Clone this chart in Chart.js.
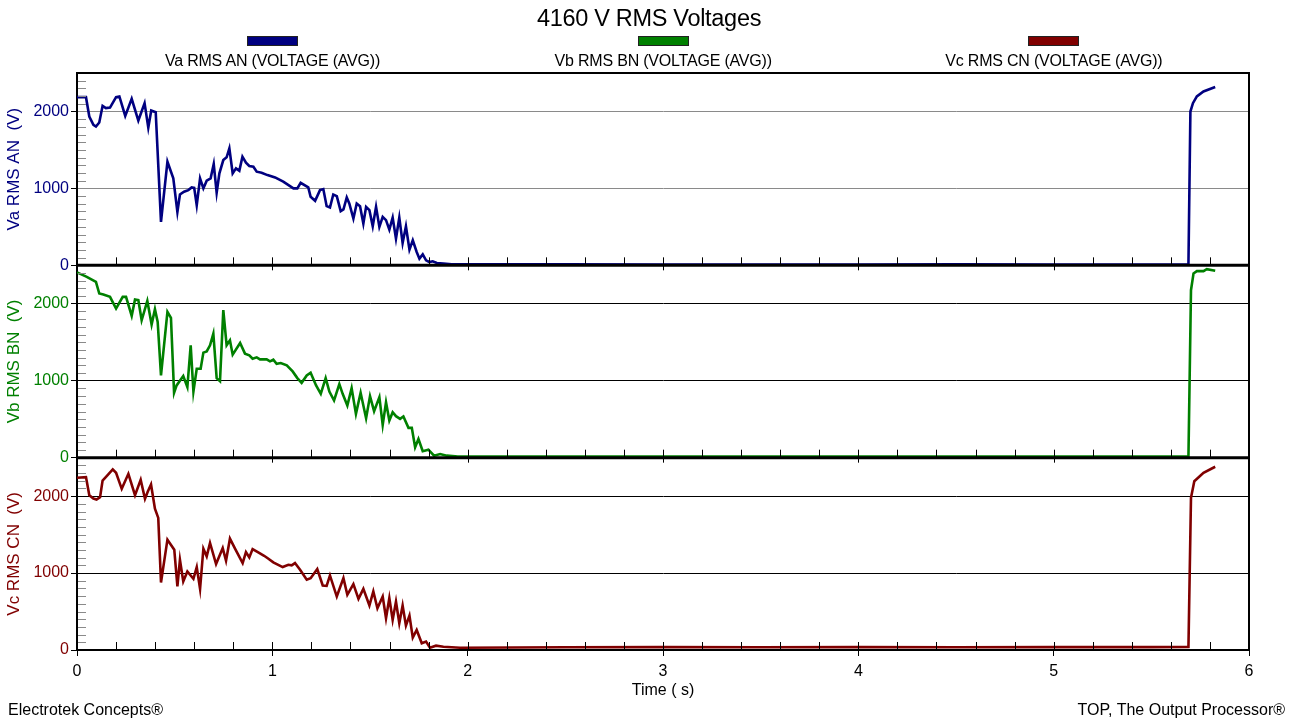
<!DOCTYPE html>
<html>
<head>
<meta charset="utf-8">
<title>4160 V RMS Voltages</title>
<script src="https://cdn.jsdelivr.net/npm/chart.js@4.4.1/dist/chart.umd.min.js"></script>
<style>
  body { margin:0; background:#fff; font-family:"Liberation Sans", Arial, sans-serif; }
  #wrap { position:relative; width:1298px; height:719px; overflow:hidden; }
  #chart { position:absolute; left:0; top:0; }
  .txt { position:absolute; color:#000; white-space:nowrap; }
  #title { left:0; width:1298px; top:5px; text-align:center; font-size:23.5px; line-height:26px; letter-spacing:-0.3px; }
  .leg { position:absolute; top:36px; width:391px; text-align:center; font-size:16px; }
  .leg .box { display:block; margin:0 auto; width:49px; height:8px; border:1px solid #222; }
  .leg .lab { margin-top:5px; line-height:19px; letter-spacing:-0.2px; }
  #foot1 { left:8px; top:700px; font-size:16px; line-height:19px; }
  #foot2 { right:13px; top:700px; font-size:16px; line-height:19px; }
</style>
</head>
<body>
<div id="wrap">
  <canvas id="chart" width="1298" height="719"></canvas>
  <div class="txt" id="title">4160 V RMS Voltages</div>
  <div id="legend"></div>
  <div class="txt" id="foot1">Electrotek Concepts®</div>
  <div class="txt" id="foot2">TOP, The Output Processor®</div>
</div>
<script>
// time axis (s) and RMS voltages (V)
const timeA = [0, 0.046, 0.063, 0.084, 0.097, 0.114, 0.131, 0.148, 0.169, 0.2, 0.217, 0.247, 0.28, 0.314, 0.346, 0.365, 0.38, 0.403, 0.43, 0.463, 0.493, 0.514, 0.527, 0.548, 0.57, 0.587, 0.6, 0.613, 0.63, 0.647, 0.664, 0.684, 0.7, 0.715, 0.729, 0.749, 0.766, 0.78, 0.797, 0.814, 0.831, 0.847, 0.865, 0.882, 0.903, 0.92, 0.945, 0.975, 1.014, 1.056, 1.108, 1.128, 1.145, 1.184, 1.196, 1.219, 1.244, 1.261, 1.278, 1.295, 1.312, 1.33, 1.35, 1.364, 1.381, 1.394, 1.415, 1.432, 1.449, 1.466, 1.48, 1.497, 1.514, 1.531, 1.548, 1.565, 1.582, 1.599, 1.616, 1.633, 1.65, 1.667, 1.684, 1.702, 1.719, 1.739, 1.753, 1.77, 1.787, 1.804, 1.821, 1.842, 1.876, 1.918, 2.5, 3.0, 3.5, 4.0, 4.5, 5.0, 5.5, 5.69, 5.70, 5.713, 5.733, 5.767, 5.827];
const voltsA = [2186, 2186, 1934, 1825, 1804, 1856, 2073, 2043, 2051, 2186, 2195, 1943, 2164, 1882, 2108, 1790, 2012, 1990, 565, 1347, 1130, 695, 921, 956, 978, 1013, 1008, 782, 1130, 1000, 1100, 1130, 1317, 943, 1195, 1369, 1404, 1521, 1195, 1260, 1230, 1412, 1334, 1291, 1282, 1217, 1204, 1173, 1143, 1087, 1000, 1000, 1073, 1013, 891, 839, 978, 991, 769, 752, 921, 900, 704, 726, 882, 804, 608, 804, 769, 543, 760, 717, 508, 760, 500, 630, 587, 465, 621, 348, 621, 291, 508, 204, 326, 174, 87, 143, 65, 43, 52, 30, 22, 13, 12, 10, 11, 10, 12, 10, 11, 10, 1999, 2108, 2195, 2260, 2317];

const timeB = [0, 0.05, 0.097, 0.114, 0.135, 0.169, 0.2, 0.234, 0.251, 0.28, 0.297, 0.314, 0.331, 0.36, 0.382, 0.399, 0.413, 0.43, 0.463, 0.481, 0.497, 0.51, 0.544, 0.565, 0.582, 0.596, 0.613, 0.633, 0.647, 0.664, 0.681, 0.698, 0.715, 0.732, 0.749, 0.766, 0.783, 0.797, 0.835, 0.86, 0.882, 0.899, 0.92, 0.937, 0.971, 0.988, 1.005, 1.022, 1.043, 1.074, 1.104, 1.128, 1.15, 1.176, 1.196, 1.224, 1.248, 1.273, 1.292, 1.316, 1.343, 1.36, 1.384, 1.406, 1.428, 1.452, 1.48, 1.5, 1.521, 1.548, 1.565, 1.582, 1.599, 1.616, 1.633, 1.654, 1.671, 1.697, 1.714, 1.731, 1.748, 1.77, 1.799, 1.828, 1.859, 1.893, 1.95, 2.5, 3.0, 3.5, 4.0, 4.5, 5.0, 5.5, 5.69, 5.703, 5.716, 5.733, 5.767, 5.784, 5.827];
const voltsB = [2408, 2351, 2286, 2134, 2121, 2090, 1938, 2090, 2090, 1843, 2056, 2047, 1786, 2038, 1730, 1930, 1764, 1069, 1895, 1817, 843, 939, 1060, 917, 1460, 860, 1156, 1156, 1365, 1382, 1460, 1612, 1034, 995, 1917, 1460, 1525, 1339, 1491, 1352, 1330, 1286, 1304, 1278, 1278, 1252, 1273, 1221, 1230, 1200, 1121, 1034, 973, 1069, 1104, 939, 830, 1034, 860, 743, 956, 830, 678, 904, 569, 843, 513, 800, 604, 787, 426, 721, 482, 591, 539, 504, 535, 387, 387, 135, 243, 83, 104, 26, 48, 26, 15, 14, 15, 14, 15, 14, 15, 14, 14, 2177, 2395, 2425, 2425, 2450, 2430];

const timeC = [0, 0.046, 0.063, 0.084, 0.1, 0.118, 0.131, 0.152, 0.183, 0.2, 0.229, 0.263, 0.297, 0.326, 0.348, 0.362, 0.379, 0.399, 0.416, 0.43, 0.463, 0.498, 0.514, 0.527, 0.544, 0.565, 0.596, 0.613, 0.63, 0.647, 0.664, 0.681, 0.712, 0.746, 0.763, 0.783, 0.809, 0.848, 0.865, 0.882, 0.899, 0.928, 0.958, 0.98, 1.005, 1.053, 1.082, 1.099, 1.116, 1.142, 1.176, 1.196, 1.23, 1.258, 1.278, 1.295, 1.33, 1.364, 1.384, 1.415, 1.441, 1.466, 1.497, 1.517, 1.538, 1.565, 1.582, 1.599, 1.616, 1.633, 1.65, 1.667, 1.684, 1.702, 1.719, 1.739, 1.765, 1.787, 1.807, 1.838, 1.876, 1.961, 2.5, 3.0, 3.5, 4.0, 4.5, 5.0, 5.5, 5.69, 5.703, 5.72, 5.767, 5.827];
const voltsC = [2238, 2247, 2012, 1969, 1956, 1986, 2203, 2260, 2347, 2303, 2095, 2290, 2012, 2212, 1964, 2056, 2151, 1838, 1717, 878, 1434, 1304, 826, 1173, 891, 1021, 926, 1078, 795, 1317, 1217, 1391, 1117, 1325, 1160, 1447, 1317, 1130, 1273, 1204, 1312, 1269, 1225, 1186, 1139, 1078, 1108, 1100, 1130, 1043, 913, 934, 1052, 839, 834, 969, 695, 934, 717, 856, 665, 795, 578, 761, 543, 695, 413, 674, 391, 630, 348, 578, 317, 448, 161, 261, 87, 109, 30, 56, 43, 30, 35, 38, 36, 38, 36, 38, 37, 38, 1978, 2194, 2304, 2382];

const seriesNames = ['Va RMS AN (VOLTAGE (AVG))', 'Vb RMS BN (VOLTAGE (AVG))', 'Vc RMS CN (VOLTAGE (AVG))'];
const axisTitles = ['Va RMS AN  (V)', 'Vb RMS BN  (V)', 'Vc RMS CN  (V)'];
const seriesColors = ['#000080', '#008000', '#800000'];
const xTicks = [0, 1, 2, 3, 4, 5, 6];
const yTicks = [0, 1000, 2000];
const yMax = 2500;

const FONT = '"Liberation Sans", Arial, sans-serif';
Chart.defaults.font.family = FONT;

// legend: colour bar above each label, one per third of the plot width
const legendEl = document.getElementById('legend');
seriesNames.forEach((name, i) => {
  const d = document.createElement('div');
  d.className = 'leg';
  d.style.left = (77 + i * 390.7) + 'px';
  d.innerHTML = `<div class="box" style="background:${seriesColors[i]}"></div><div class="lab">${name}</div>`;
  legendEl.appendChild(d);
});

function pts(ts, vs) {
  return ts.map((t, i) => ({x: t, y: vs[i]}));
}

function yScale(i, gridColor) {
  return {
    type: 'linear', position: 'left', stack: 'panels', stackWeight: 1,
    min: 0, max: yMax,
    afterBuildTicks: s => { s.ticks = yTicks.map(v => ({value: v})); },
    afterFit: s => { s.width = 77; },
    ticks: {color: seriesColors[i], font: {size: 16}, padding: 2, callback: v => String(v)},
    grid: {color: gridColor, lineWidth: 1, tickLength: 6, tickColor: '#000'},
    border: {display: true, color: '#000', width: 2},
    title: {display: true, text: axisTitles[i], color: seriesColors[i], font: {size: 17}, padding: {top: 4, bottom: 0}}
  };
}

// inner ticks, panel separators and frame
const panelDecor = {
  id: 'panelDecor',
  afterDraw(chart) {
    const {ctx, chartArea: a, scales} = chart;
    const xs = scales.x;
    const panels = [scales.yA, scales.yB, scales.yC];
    ctx.save();
    // minor y ticks every 100 V
    ctx.strokeStyle = '#8a8a8a';
    ctx.lineWidth = 1;
    panels.forEach(s => {
      for (let v = 100; v < yMax; v += 100) {
        if (v % 1000 === 0) continue;
        const y = Math.round(s.getPixelForValue(v)) + 0.5;
        ctx.beginPath(); ctx.moveTo(a.left + 1, y); ctx.lineTo(a.left + 9, y); ctx.stroke();
      }
    });
    // x ticks at the bottom of each panel, every 0.2 s
    ctx.strokeStyle = '#000';
    panels.forEach((s, pi) => {
      const yb = s.getPixelForValue(0);
      for (let k = 0; k <= 30; k++) {
        const x = Math.round(xs.getPixelForValue(k * 0.2)) + 0.5;
        const major = k % 5 === 0;
        ctx.beginPath();
        ctx.moveTo(x, yb - 8);
        ctx.lineTo(x, major && pi < 2 ? yb + 5 : yb);
        ctx.stroke();
      }
    });
    // separators between panels
    ctx.lineWidth = 3;
    [scales.yA, scales.yB].forEach(s => {
      const y = s.getPixelForValue(0);
      ctx.beginPath(); ctx.moveTo(a.left, y); ctx.lineTo(a.right, y); ctx.stroke();
    });
    // frame
    ctx.lineWidth = 2;
    ctx.beginPath();
    ctx.moveTo(a.left, a.top); ctx.lineTo(a.right, a.top); ctx.lineTo(a.right, a.bottom);
    ctx.stroke();
    ctx.restore();
  }
};

const datasets = [
  {data: pts(timeA, voltsA), yAxisID: 'yA'},
  {data: pts(timeB, voltsB), yAxisID: 'yB'},
  {data: pts(timeC, voltsC), yAxisID: 'yC'}
].map((d, i) => Object.assign(d, {
  label: seriesNames[i], borderColor: seriesColors[i], borderWidth: 2.6,
  pointRadius: 0, tension: 0, fill: false
}));

new Chart(document.getElementById('chart'), {
  type: 'line',
  data: {datasets},
  options: {
    responsive: false,
    animation: false,
    layout: {padding: {left: 0, top: 73, right: 49, bottom: 0}},
    plugins: {legend: {display: false}, title: {display: false}, tooltip: {enabled: false}},
    scales: {
      x: {
        type: 'linear', position: 'bottom', min: 0, max: 6,
        afterBuildTicks: s => { s.ticks = xTicks.map(v => ({value: v})); },
        afterFit: s => { s.height = 69; },
        ticks: {color: '#000', font: {size: 16}, padding: 6, maxRotation: 0},
        grid: {drawOnChartArea: false, color: '#000', tickLength: 6},
        border: {color: '#000', width: 2},
        title: {display: true, text: 'Time ( s)', color: '#000', font: {size: 16}, padding: {top: 0, bottom: 19}}
      },
      yC: yScale(2, '#000'),
      yB: yScale(1, '#000'),
      yA: yScale(0, '#8a8a8a')
    }
  },
  plugins: [panelDecor]
});
</script>
</body>
</html>
